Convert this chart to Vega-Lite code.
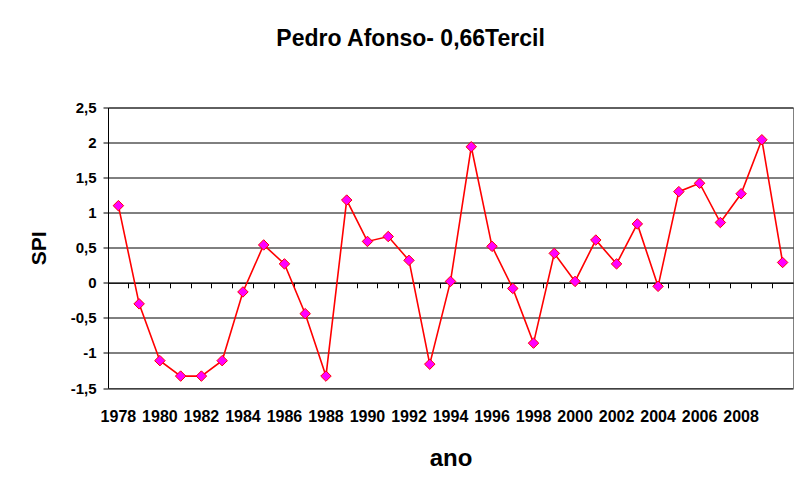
{
  "$schema": "https://vega.github.io/schema/vega-lite/v6.json",
  "width": 685,
  "height": 280.5,
  "autosize": "none",
  "padding": {"left": 108, "top": 107.5, "right": 3, "bottom": 102},
  "background": "white",
  "title": {"text": "Pedro Afonso- 0,66Tercil", "font": "Liberation Sans", "fontSize": 23, "fontWeight": "bold", "color": "#000", "anchor": "middle", "frame": "bounds", "baseline": "alphabetic", "offset": 32},
  "config": {"view": {"stroke": "#808080", "strokeWidth": 1}, "font": "Liberation Sans"},
  "data": {"values": [
    {"ano": 1978, "spi": 1.10}, {"ano": 1979, "spi": -0.30}, {"ano": 1980, "spi": -1.11}, {"ano": 1981, "spi": -1.33},
    {"ano": 1982, "spi": -1.33}, {"ano": 1983, "spi": -1.11}, {"ano": 1984, "spi": -0.13}, {"ano": 1985, "spi": 0.54},
    {"ano": 1986, "spi": 0.27}, {"ano": 1987, "spi": -0.44}, {"ano": 1988, "spi": -1.33}, {"ano": 1989, "spi": 1.18},
    {"ano": 1990, "spi": 0.59}, {"ano": 1991, "spi": 0.66}, {"ano": 1992, "spi": 0.32}, {"ano": 1993, "spi": -1.16},
    {"ano": 1994, "spi": 0.02}, {"ano": 1995, "spi": 1.94}, {"ano": 1996, "spi": 0.52}, {"ano": 1997, "spi": -0.08},
    {"ano": 1998, "spi": -0.86}, {"ano": 1999, "spi": 0.42}, {"ano": 2000, "spi": 0.02}, {"ano": 2001, "spi": 0.61},
    {"ano": 2002, "spi": 0.27}, {"ano": 2003, "spi": 0.84}, {"ano": 2004, "spi": -0.05}, {"ano": 2005, "spi": 1.30},
    {"ano": 2006, "spi": 1.42}, {"ano": 2007, "spi": 0.86}, {"ano": 2008, "spi": 1.27}, {"ano": 2009, "spi": 2.04},
    {"ano": 2010, "spi": 0.29}
  ]},
  "layer": [
    {
      "mark": {"type": "line", "color": "#FF0000", "strokeWidth": 1.6},
      "encoding": {
        "x": {"field": "ano", "type": "ordinal", "sort": "ascending",
          "scale": {"type": "band", "paddingInner": 0, "paddingOuter": 0},
          "axis": {"orient": "bottom", "values": [1978,1980,1982,1984,1986,1988,1990,1992,1994,1996,1998,2000,2002,2004,2006,2008],
            "labelAngle": 0, "labelFont": "Liberation Sans", "labelFontSize": 16, "labelFontWeight": "bold", "labelColor": "#000",
            "labelPadding": 20, "ticks": false, "domain": false, "grid": false, "labelOverlap": false,
            "title": "ano", "titleFont": "Liberation Sans", "titleFontSize": 24, "titleFontWeight": "bold", "titlePadding": 22, "titleColor": "#000"}},
        "y": {"field": "spi", "type": "quantitative",
          "scale": {"domain": [-1.5, 2.5], "nice": false, "zero": false},
          "axis": {"values": [-1.5,-1,-0.5,0,0.5,1,1.5,2,2.5], "labelExpr": "replace(toString(datum.value), '.', ',')",
            "labelFont": "Liberation Sans", "labelFontSize": 15, "labelFontWeight": "bold", "labelColor": "#000", "labelPadding": 7,
            "tickSize": 5, "tickColor": "#000", "domainColor": "#000", "grid": true, "gridColor": "#000", "gridWidth": 1,
            "title": "SPI", "titleFont": "Liberation Sans", "titleFontSize": 21, "titleFontWeight": "bold", "titlePadding": 21, "titleColor": "#000"}}
      }
    },
    {
      "mark": {"type": "point", "shape": "diamond", "filled": true, "fill": "#FF00FF", "stroke": "#FF0000", "strokeWidth": 1, "size": 110, "opacity": 1},
      "encoding": {
        "x": {"field": "ano", "type": "ordinal", "sort": "ascending",
          "scale": {"type": "band", "paddingInner": 0, "paddingOuter": 0},
          "axis": {"orient": "bottom", "offset": -105.2, "labels": false, "title": null, "grid": false,
            "domainColor": "#000", "domainWidth": 1, "tickColor": "#000", "tickSize": 5, "bandPosition": 0}},
        "y": {"field": "spi", "type": "quantitative",
          "scale": {"domain": [-1.5, 2.5], "nice": false, "zero": false},
          "axis": {"values": [-1.5,-1,-0.5,0,0.5,1,1.5,2,2.5], "labelExpr": "replace(toString(datum.value), '.', ',')",
            "labelFont": "Liberation Sans", "labelFontSize": 15, "labelFontWeight": "bold", "labelColor": "#000", "labelPadding": 7,
            "tickSize": 5, "tickColor": "#000", "domainColor": "#000", "grid": true, "gridColor": "#000", "gridWidth": 1,
            "title": "SPI", "titleFont": "Liberation Sans", "titleFontSize": 21, "titleFontWeight": "bold", "titlePadding": 21, "titleColor": "#000"}}
      }
    }
  ],
  "resolve": {"axis": {"x": "independent"}}
}
